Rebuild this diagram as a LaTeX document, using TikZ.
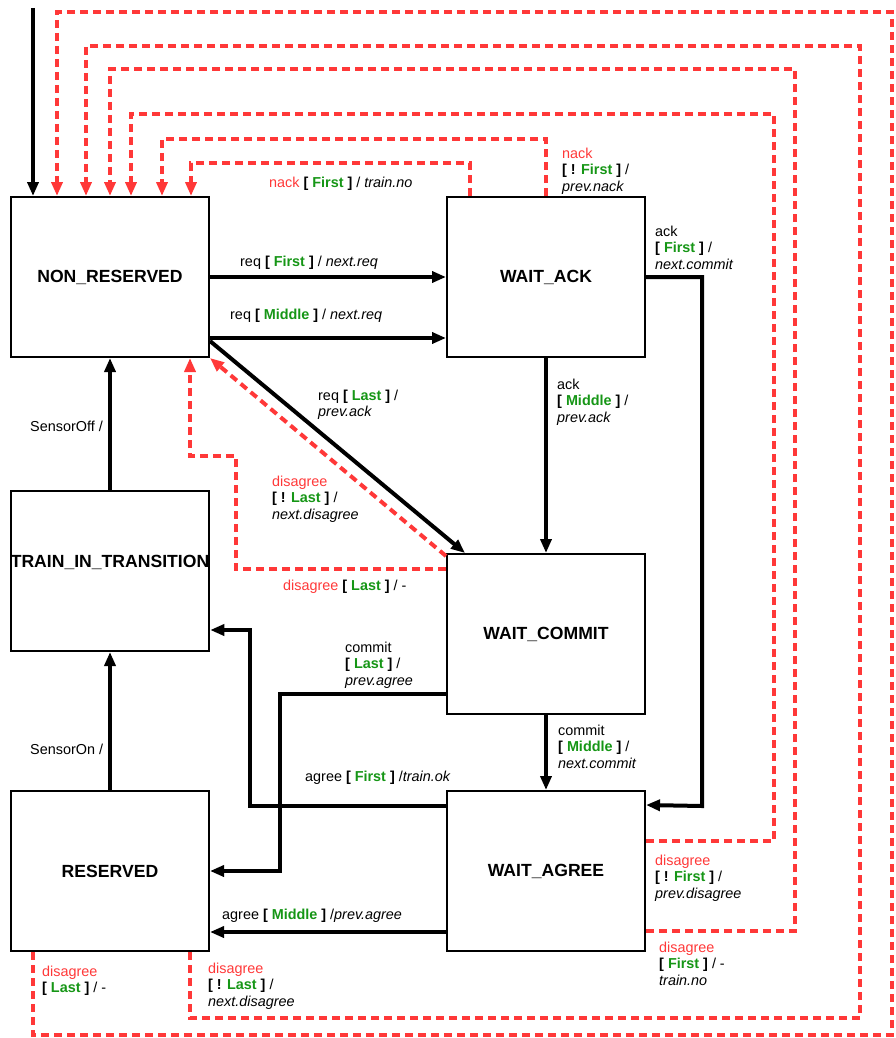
\documentclass[tikz,border=0pt]{standalone}
\usepackage{fontspec}
\setmainfont{Liberation Sans}
\usetikzlibrary{arrows.meta,positioning}
\definecolor{evred}{RGB}{255,56,56}
\definecolor{grdgreen}{RGB}{22,150,22}
\newcommand{\grd}[1]{\textbf{[ \textcolor{grdgreen}{#1} ]}}
\newcommand{\ngrd}[1]{\textbf{[ ! \textcolor{grdgreen}{#1} ]}}
\newcommand{\ev}[1]{\textcolor{evred}{#1}}

\begin{document}
\begin{tikzpicture}[
  x=1pt, y=-1pt,
  state/.style={draw, line width=2pt, minimum width=198pt, minimum height=160pt,
    inner sep=0pt, font=\fontsize{17.6}{20}\selectfont\bfseries},
  lbl/.style={align=left, inner sep=0pt, anchor=base west,
    font=\fontsize{14.4}{16.5}\selectfont},
  flow/.style={-{Triangle[length=14pt,width=11pt]}, line width=4pt},
  redflow/.style={flow, evred, dash pattern=on 8pt off 5pt}
]
\useasboundingbox (0,0) rectangle (896,1038);

\node[state] (nonres) at (110,277) {NON\_RESERVED};
\node[state, right=236pt of nonres] (waitack) {WAIT\_ACK};
\node[state, below=132pt of nonres] (transit) {\raisebox{20pt}{TRAIN\_IN\_TRANSITION}};
\node[state, below=138pt of transit] (reserved) {RESERVED};
\node[state, below=195pt of waitack] (waitcommit) {WAIT\_COMMIT};
\node[state, below=75pt of waitcommit] (waitagree) {WAIT\_AGREE};

\coordinate (init) at (33,8);
\coordinate (dl1) at (236,456);
\coordinate (akc) at (702,806);
\coordinate (clc) at (280,871);
\coordinate (afc) at (250,630);

% red return paths
\draw[redflow] ([xshift=-76pt]waitack.north) -- ++(0,-33) -| ([xshift=81pt]nonres.north);
\draw[redflow] (waitack.north) -- ++(0,-57) -| ([xshift=52pt]nonres.north);
\draw[redflow] ([yshift=-51pt]waitagree.north east) -- ++(128,0) -- ++(0,-727) -| ([xshift=21pt]nonres.north);
\draw[redflow] ([yshift=21pt]waitagree.south east) -- ++(149,0) -- ++(0,-862) -| (nonres.north);
\draw[redflow] ([xshift=80pt]reserved.south) -- ++(0,66) -- ++(670,0) -- ++(0,-972) -| ([xshift=-24pt]nonres.north);
\draw[redflow] ([xshift=-77pt]reserved.south) -- ++(0,83) -- ++(859,0) -- ++(0,-1023) -| ([xshift=-53pt]nonres.north);
\draw[redflow] ([yshift=-3pt]waitcommit.north west) -- (nonres.south east);
\draw[redflow] ([yshift=-16pt]waitcommit.north west) -| (dl1) -| ([xshift=80pt]nonres.south);

% black transitions
\draw[flow] (init) -- ([xshift=-77pt]nonres.north);
\draw[flow] (nonres.east) -- (waitack.west);
\draw[flow] ([yshift=20pt]nonres.south east) -- ([yshift=20pt]waitack.south west);
\draw[flow] ([yshift=17pt]nonres.south east) -- ([xshift=19pt]waitcommit.north west);
\draw[flow] (waitack.south) -- (waitcommit.north);
\draw[flow] (waitack.east) -| (akc) -- ([yshift=-15pt]waitagree.north east);
\draw[flow] (waitcommit.south) -- (waitagree.north);
\draw[flow] ([yshift=21pt]waitcommit.south west) -| (clc) -- (reserved.east);
\draw[flow] ([yshift=-16pt]waitagree.north west) -| (afc) -- ([yshift=-59pt]transit.east);
\draw[flow] ([yshift=20pt]waitagree.south west) -- ([yshift=20pt]reserved.south east);
\draw[flow] (reserved.north) -- (transit.south);
\draw[flow] (transit.north) -- (nonres.south);

\node[lbl] (lnackf) at (269,187) {\ev{nack} \grd{First} / \textit{train.no}};
\node[lbl] (lnacknf) at (562,191) {\ev{nack}\\\ngrd{First} /\\\textit{prev.nack}};
\node[lbl] (lackf) at (655,269) {ack\\\grd{First} /\\\textit{next.commit}};
\node[lbl] (lreqf) at (240,266) {req \grd{First} / \textit{next.req}};
\node[lbl] (lreqm) at (230,319) {req \grd{Middle} / \textit{next.req}};
\node[lbl] (lreql) at (318,416.5) {req \grd{Last} /\\\textit{prev.ack}};
\node[lbl] (lackm) at (557,422) {ack\\\grd{Middle} /\\\textit{prev.ack}};
\node[lbl] (lsoff) at (30,431) {SensorOff /};
\node[lbl] (ldisnl) at (272,519) {\ev{disagree}\\\ngrd{Last} /\\\textit{next.disagree}};
\node[lbl] (ldisl) at (283,590) {\ev{disagree} \grd{Last} / -};
\node[lbl] (lcoml) at (345,685) {commit\\\grd{Last} /\\\textit{prev.agree}};
\node[lbl] (lcomm) at (558,768) {commit\\\grd{Middle} /\\\textit{next.commit}};
\node[lbl] (lson) at (30,754) {SensorOn /};
\node[lbl] (lagf) at (305,781) {agree \grd{First} /\textit{train.ok}};
\node[lbl] (ldisnf) at (655,898) {\ev{disagree}\\\ngrd{First} /\\\textit{prev.disagree}};
\node[lbl] (lagm) at (222,919) {agree \grd{Middle} /\textit{prev.agree}};
\node[lbl] (ldisf) at (659,985) {\ev{disagree}\\\grd{First} / -\\\textit{train.no}};
\node[lbl] (lrdisl) at (42,992.5) {\ev{disagree}\\\grd{Last} / -};
\node[lbl] (lrdisnl) at (208,1006) {\ev{disagree}\\\ngrd{Last} /\\\textit{next.disagree}};
\end{tikzpicture}
\end{document}
